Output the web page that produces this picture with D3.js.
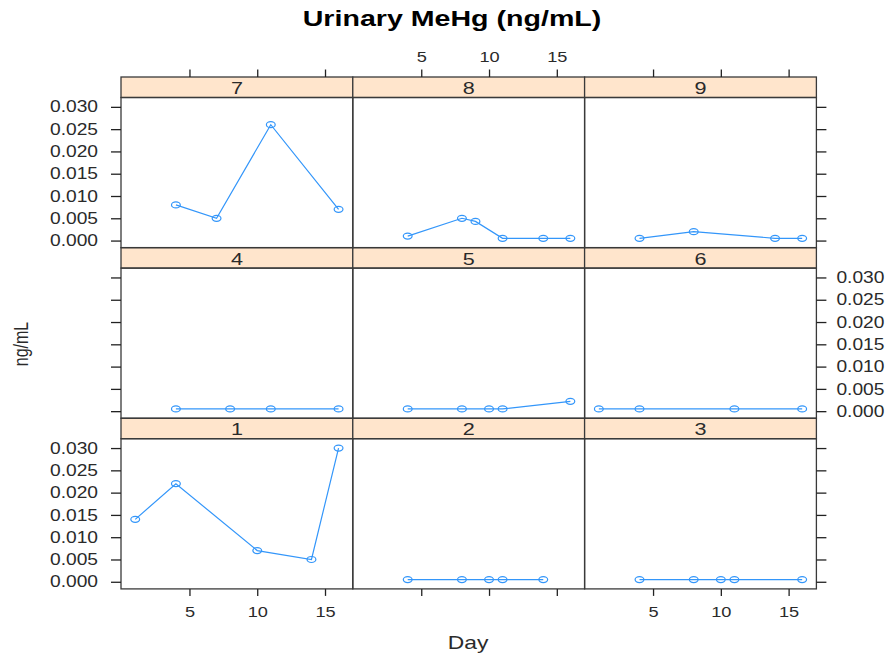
<!DOCTYPE html>
<html>
<head>
<meta charset="utf-8">
<script src="https://cdn.jsdelivr.net/npm/d3@7"></script>
<style>
  body { margin: 0; background: #fff; }
  text { font-family: "Liberation Sans", Arial, sans-serif; fill: #2a2a2a; }
</style>
</head>
<body>
<script>
// subject panels, numbered as in the strips
var subjectIds = [1, 2, 3, 4, 5, 6, 7, 8, 9];

var subjectDays = [
  [1, 4, 10, 14, 16],
  [4, 8, 10, 11, 14],
  [4, 8, 10, 11, 16],
  [4, 8, 11, 16],
  [4, 8, 10, 11, 16],
  [1, 4, 11, 16],
  [4, 7, 11, 16],
  [4, 8, 9, 11, 14, 16],
  [4, 8, 14, 16]
];

var subjectValues = [
  [0.014, 0.022, 0.007, 0.005, 0.030],
  [0.0005, 0.0005, 0.0005, 0.0005, 0.0005],
  [0.0005, 0.0005, 0.0005, 0.0005, 0.0005],
  [0.0005, 0.0005, 0.0005, 0.0005],
  [0.0005, 0.0005, 0.0005, 0.0005, 0.0022],
  [0.0005, 0.0005, 0.0005, 0.0005],
  [0.008, 0.005, 0.026, 0.007],
  [0.001, 0.005, 0.0043, 0.0005, 0.0005, 0.0005],
  [0.0005, 0.002, 0.0005, 0.0005]
];

var xTicks = [5, 10, 15];
var yTicks = [0, 0.005, 0.010, 0.015, 0.020, 0.025, 0.030];
var xDomain = [-0.05, 17.05];
var yDomain = [-0.0016, 0.0321];

var width = 887,
  height = 658,
  left = 121,
  panelW = 231.8,
  top0 = 77,
  stripH = 20.5,
  panelH = 150.2,
  pitch = 170.6,
  sx = 1.27;

var lineColor = "#3396fa";

var svg = d3.select("body").append("svg")
  .attr("width", width)
  .attr("height", height);

var x = d3.scaleLinear().domain(xDomain).range([0, panelW]);
var y = d3.scaleLinear().domain(yDomain).range([panelH, 0]);

var line = d3.line()
  .x(function(d) { return x(d[0]); })
  .y(function(d) { return y(d[1]); });

// the picture is wider than it is tall, so text is stretched sideways
function stretch(sel, s) {
  sel.each(function() {
    var t = d3.select(this);
    var tx = +t.attr("x") || 0, ty = +t.attr("y") || 0;
    t.attr("x", 0).attr("y", 0)
      .attr("transform", "translate(" + tx + "," + ty + ") scale(" + s + ",1)");
  });
}

function panelX(col) { return left + col * panelW; }
function stripY(row) { return top0 + row * pitch; }
function panelY(row) { return stripY(row) + stripH; }

subjectIds.forEach(function(id, i) {
  var col = i % 3,
    row = 2 - Math.floor(i / 3);
  var g = svg.append("g")
    .attr("transform", "translate(" + panelX(col) + "," + stripY(row) + ")");

  g.append("rect")
    .attr("width", panelW)
    .attr("height", stripH)
    .attr("fill", "#ffe5cc")
    .attr("stroke", "#3a3a3a")
    .attr("stroke-width", 1.3);

  g.append("text")
    .attr("x", panelW / 2)
    .attr("y", stripH - 3.4)
    .attr("text-anchor", "middle")
    .style("font-size", "17px")
    .text(id)
    .call(stretch, sx);

  var p = g.append("g").attr("transform", "translate(0," + stripH + ")");

  p.append("rect")
    .attr("width", panelW)
    .attr("height", panelH)
    .attr("fill", "none")
    .attr("stroke", "#3a3a3a")
    .attr("stroke-width", 1.3);

  var pts = subjectDays[i].map(function(d, j) { return [d, subjectValues[i][j]]; });

  p.append("path")
    .datum(pts)
    .attr("fill", "none")
    .attr("stroke", lineColor)
    .attr("stroke-width", 1.2)
    .attr("d", line);

  p.selectAll(".pt")
    .data(pts)
    .enter()
    .append("ellipse")
    .attr("class", "pt")
    .attr("cx", function(d) { return x(d[0]); })
    .attr("cy", function(d) { return y(d[1]); })
    .attr("rx", 4.4)
    .attr("ry", 3)
    .attr("fill", "none")
    .attr("stroke", lineColor)
    .attr("stroke-width", 1.2);
});

function styleAxis(g, size, s) {
  g.select(".domain").remove();
  g.selectAll(".tick line").attr("stroke", "#222").attr("stroke-width", 1.3);
  g.selectAll(".tick text")
    .attr("fill", "#2a2a2a")
    .style("font-family", '"Liberation Sans", Arial, sans-serif')
    .style("font-size", size + "px")
    .call(stretch, s);
}

// left and right axes, labels alternate between rows
[0, 1, 2].forEach(function(row) {
  var leftAxis = d3.axisLeft(y).tickValues(yTicks).tickSize(10).tickSizeOuter(0).tickPadding(13)
    .tickFormat(row === 1 ? "" : d3.format(".3f"));
  svg.append("g")
    .attr("transform", "translate(" + panelX(0) + "," + panelY(row) + ")")
    .call(leftAxis)
    .call(styleAxis, 16, 1.2);

  var rightAxis = d3.axisRight(y).tickValues(yTicks).tickSize(10).tickSizeOuter(0).tickPadding(10)
    .tickFormat(row === 1 ? d3.format(".3f") : "");
  svg.append("g")
    .attr("transform", "translate(" + panelX(3) + "," + panelY(row) + ")")
    .call(rightAxis)
    .call(styleAxis, 16, 1.2);
});

// top and bottom axes, labels alternate between columns
[0, 1, 2].forEach(function(col) {
  var topAxis = d3.axisTop(x).tickValues(xTicks).tickSize(7.5).tickSizeOuter(0).tickPadding(7.5)
    .tickFormat(col === 1 ? d3.format("d") : "");
  svg.append("g")
    .attr("transform", "translate(" + panelX(col) + "," + stripY(0) + ")")
    .call(topAxis)
    .call(styleAxis, 14, 1.3);

  var bottomAxis = d3.axisBottom(x).tickValues(xTicks).tickSize(7).tickSizeOuter(0).tickPadding(11)
    .tickFormat(col === 1 ? "" : d3.format("d"));
  svg.append("g")
    .attr("transform", "translate(" + panelX(col) + "," + (panelY(2) + panelH) + ")")
    .call(bottomAxis)
    .call(styleAxis, 14, 1.3);
});

svg.append("text")
  .attr("x", 452)
  .attr("y", 26)
  .attr("text-anchor", "middle")
  .style("font-size", "22px")
  .style("font-weight", "bold")
  .style("fill", "#000")
  .text("Urinary MeHg (ng/mL)")
  .call(stretch, 1.3);

svg.append("text")
  .attr("x", 468)
  .attr("y", 649)
  .attr("text-anchor", "middle")
  .style("font-size", "18px")
  .text("Day")
  .call(stretch, sx);

svg.append("text")
  .attr("text-anchor", "middle")
  .attr("transform", "translate(28.3,344) scale(" + sx + ",1) rotate(-90)")
  .style("font-size", "16px")
  .text("ng/mL");
</script>
</body>
</html>
